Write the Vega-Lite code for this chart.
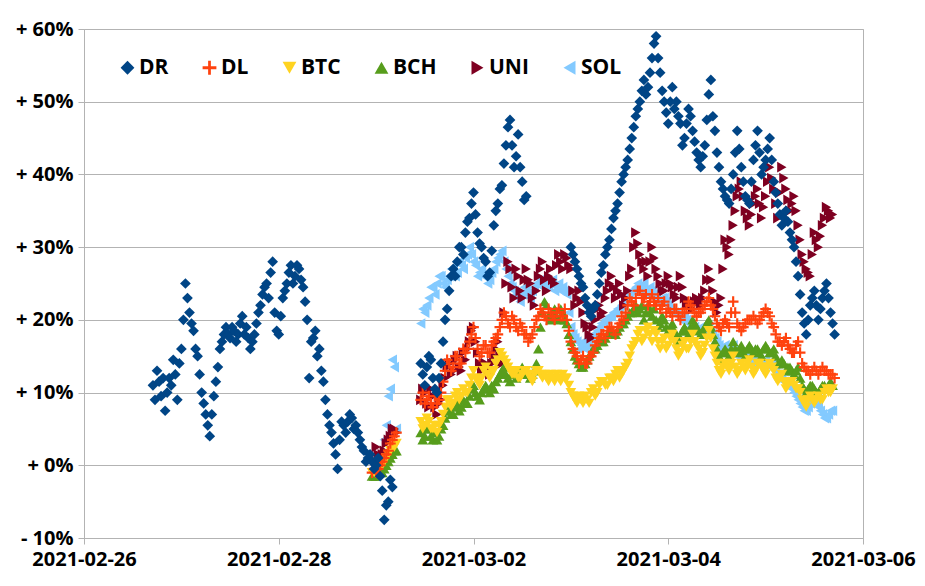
{
  "$schema": "https://vega.github.io/schema/vega-lite/v6.json",
  "description": "Relative price change of DR, DL, BTC, BCH, UNI and SOL, 2021-02-26 to 2021-03-06.",
  "background": "white",
  "width": 779,
  "height": 509,
  "autosize": "none",
  "padding": {"left": 84, "top": 29, "right": 62, "bottom": 48},
  "datasets": {
    "zorder": [
      {"series": "DR", "z": 6},
      {"series": "DL", "z": 5},
      {"series": "BTC", "z": 4},
      {"series": "BCH", "z": 3},
      {"series": "UNI", "z": 2},
      {"series": "SOL", "z": 1}
    ]
  },
  "data": {
    "values": [
      {"t": "2021-02-26T17:00", "DR": 11},
      {"t": "2021-02-26T17:30", "DR": 9},
      {"t": "2021-02-26T18:00", "DR": 13},
      {"t": "2021-02-26T18:30", "DR": 11.5},
      {"t": "2021-02-26T19:00", "DR": 9.5},
      {"t": "2021-02-26T19:30", "DR": 12},
      {"t": "2021-02-26T20:00", "DR": 7.5},
      {"t": "2021-02-26T20:30", "DR": 10},
      {"t": "2021-02-26T21:00", "DR": 12},
      {"t": "2021-02-26T21:30", "DR": 11},
      {"t": "2021-02-26T22:00", "DR": 14.5},
      {"t": "2021-02-26T22:30", "DR": 12.5},
      {"t": "2021-02-26T23:00", "DR": 9},
      {"t": "2021-02-26T23:30", "DR": 14},
      {"t": "2021-02-27T00:00", "DR": 16},
      {"t": "2021-02-27T00:30", "DR": 20},
      {"t": "2021-02-27T01:00", "DR": 25},
      {"t": "2021-02-27T01:30", "DR": 23},
      {"t": "2021-02-27T02:00", "DR": 21},
      {"t": "2021-02-27T02:30", "DR": 19.5},
      {"t": "2021-02-27T03:00", "DR": 18.5},
      {"t": "2021-02-27T03:30", "DR": 16},
      {"t": "2021-02-27T04:00", "DR": 15},
      {"t": "2021-02-27T04:30", "DR": 12.5},
      {"t": "2021-02-27T05:00", "DR": 10},
      {"t": "2021-02-27T05:30", "DR": 8.5},
      {"t": "2021-02-27T06:00", "DR": 7},
      {"t": "2021-02-27T06:30", "DR": 5.5},
      {"t": "2021-02-27T07:00", "DR": 4},
      {"t": "2021-02-27T07:30", "DR": 7},
      {"t": "2021-02-27T08:00", "DR": 9.5},
      {"t": "2021-02-27T08:30", "DR": 11.5},
      {"t": "2021-02-27T09:00", "DR": 13.5},
      {"t": "2021-02-27T09:30", "DR": 16},
      {"t": "2021-02-27T10:00", "DR": 17},
      {"t": "2021-02-27T10:30", "DR": 18},
      {"t": "2021-02-27T11:00", "DR": 19},
      {"t": "2021-02-27T11:30", "DR": 18},
      {"t": "2021-02-27T12:00", "DR": 17.5},
      {"t": "2021-02-27T12:30", "DR": 19},
      {"t": "2021-02-27T13:00", "DR": 18.5},
      {"t": "2021-02-27T13:30", "DR": 17},
      {"t": "2021-02-27T14:00", "DR": 18},
      {"t": "2021-02-27T14:30", "DR": 19.5},
      {"t": "2021-02-27T15:00", "DR": 20.5},
      {"t": "2021-02-27T15:30", "DR": 18},
      {"t": "2021-02-27T16:00", "DR": 19},
      {"t": "2021-02-27T16:30", "DR": 17.5},
      {"t": "2021-02-27T17:00", "DR": 16},
      {"t": "2021-02-27T17:30", "DR": 17},
      {"t": "2021-02-27T18:00", "DR": 18},
      {"t": "2021-02-27T18:30", "DR": 19.5},
      {"t": "2021-02-27T19:00", "DR": 21},
      {"t": "2021-02-27T19:30", "DR": 22},
      {"t": "2021-02-27T20:00", "DR": 23.5},
      {"t": "2021-02-27T20:30", "DR": 24.5},
      {"t": "2021-02-27T21:00", "DR": 25},
      {"t": "2021-02-27T21:30", "DR": 23},
      {"t": "2021-02-27T22:00", "DR": 26.5},
      {"t": "2021-02-27T22:30", "DR": 28},
      {"t": "2021-02-27T23:00", "DR": 21},
      {"t": "2021-02-27T23:30", "DR": 18.5},
      {"t": "2021-02-28T00:00", "DR": 18},
      {"t": "2021-02-28T00:30", "DR": 20.5},
      {"t": "2021-02-28T01:00", "DR": 23},
      {"t": "2021-02-28T01:30", "DR": 24},
      {"t": "2021-02-28T02:00", "DR": 25},
      {"t": "2021-02-28T02:30", "DR": 26.5},
      {"t": "2021-02-28T03:00", "DR": 27.5},
      {"t": "2021-02-28T03:30", "DR": 25},
      {"t": "2021-02-28T04:00", "DR": 26},
      {"t": "2021-02-28T04:30", "DR": 27.5},
      {"t": "2021-02-28T05:00", "DR": 27},
      {"t": "2021-02-28T05:30", "DR": 25.5},
      {"t": "2021-02-28T06:00", "DR": 24.5},
      {"t": "2021-02-28T06:30", "DR": 22.5},
      {"t": "2021-02-28T07:00", "DR": 20},
      {"t": "2021-02-28T07:30", "DR": 12},
      {"t": "2021-02-28T08:00", "DR": 17},
      {"t": "2021-02-28T08:30", "DR": 17.5},
      {"t": "2021-02-28T09:00", "DR": 18.5},
      {"t": "2021-02-28T09:30", "DR": 15},
      {"t": "2021-02-28T10:00", "DR": 16},
      {"t": "2021-02-28T10:30", "DR": 13},
      {"t": "2021-02-28T11:00", "DR": 11.5},
      {"t": "2021-02-28T11:30", "DR": 9},
      {"t": "2021-02-28T12:00", "DR": 7},
      {"t": "2021-02-28T12:30", "DR": 5.5},
      {"t": "2021-02-28T13:00", "DR": 4.5},
      {"t": "2021-02-28T13:30", "DR": 3},
      {"t": "2021-02-28T14:00", "DR": 1.5},
      {"t": "2021-02-28T14:30", "DR": -0.5},
      {"t": "2021-02-28T15:00", "DR": 3.5},
      {"t": "2021-02-28T15:30", "DR": 6},
      {"t": "2021-02-28T16:00", "DR": 5.5},
      {"t": "2021-02-28T16:30", "DR": 4.5},
      {"t": "2021-02-28T17:00", "DR": 6},
      {"t": "2021-02-28T17:30", "DR": 7},
      {"t": "2021-02-28T18:00", "DR": 6.5},
      {"t": "2021-02-28T18:30", "DR": 5},
      {"t": "2021-02-28T19:00", "DR": 5.5},
      {"t": "2021-02-28T19:30", "DR": 4.5},
      {"t": "2021-02-28T20:00", "DR": 3.5},
      {"t": "2021-02-28T20:30", "DR": 2.5},
      {"t": "2021-02-28T21:00", "DR": 2},
      {"t": "2021-02-28T21:30", "DR": 0.5},
      {"t": "2021-02-28T22:00", "DR": 1},
      {"t": "2021-02-28T22:30", "DR": 1.5},
      {"t": "2021-02-28T23:00", "DR": 0.5, "DL": -1, "BTC": -1, "BCH": -1.5},
      {"t": "2021-02-28T23:30", "DR": -0.5, "DL": -0.5, "BTC": -1, "BCH": -1.5},
      {"t": "2021-03-01T00:00", "DR": 0, "DL": -1, "BTC": -0.5, "BCH": -1.5, "UNI": 2.5},
      {"t": "2021-03-01T00:30", "DR": 1, "DL": -0.5, "BTC": 0, "BCH": -1, "UNI": 1.5},
      {"t": "2021-03-01T01:00", "DR": -1.5, "DL": 0, "BTC": 0, "BCH": -1, "UNI": 1},
      {"t": "2021-03-01T01:30", "DR": -3.5, "DL": 0.5, "BTC": 0, "BCH": -1, "UNI": 1.5},
      {"t": "2021-03-01T02:00", "DR": -7.5, "DL": 1, "BTC": 0.5, "BCH": -0.5, "UNI": 2, "SOL": 3.5},
      {"t": "2021-03-01T02:30", "DR": -5.5, "DL": 1.5, "BTC": 1, "BCH": 0, "UNI": 3, "SOL": 5.5},
      {"t": "2021-03-01T03:00", "DR": -5, "DL": 2, "BTC": 1.5, "BCH": 0.5, "UNI": 3.5, "SOL": 9.5},
      {"t": "2021-03-01T03:30", "DR": -2, "DL": 3, "BTC": 2, "BCH": 1, "UNI": 4, "SOL": 10.5},
      {"t": "2021-03-01T04:00", "DR": -3, "DL": 3.5, "BTC": 2.5, "BCH": 1.5, "UNI": 5, "SOL": 14.5},
      {"t": "2021-03-01T04:30", "DL": 4, "BTC": 2.5, "BCH": 2, "UNI": 5, "SOL": 13.5},
      {"t": "2021-03-01T05:00", "DL": 4.5, "BTC": 3, "BCH": 2, "UNI": 4.5, "SOL": 5},
      {"t": "2021-03-01T11:00", "DR": 14, "DL": 9, "BTC": 6, "BCH": 4.5, "UNI": 9, "SOL": 19.5},
      {"t": "2021-03-01T11:30", "DR": 12.5, "DL": 10, "BTC": 5, "BCH": 3.5, "UNI": 10.5, "SOL": 21.5},
      {"t": "2021-03-01T12:00", "DR": 11, "DL": 8.5, "BTC": 5.5, "BCH": 4, "UNI": 10, "SOL": 21},
      {"t": "2021-03-01T12:30", "DR": 13.5, "DL": 9, "BTC": 6.5, "BCH": 5, "UNI": 8.5, "SOL": 22},
      {"t": "2021-03-01T13:00", "DR": 15, "DL": 9.5, "BTC": 6, "BCH": 5, "UNI": 8, "SOL": 23},
      {"t": "2021-03-01T13:30", "DR": 14.5, "DL": 8.5, "BTC": 5, "BCH": 4, "UNI": 10.5, "SOL": 24.5},
      {"t": "2021-03-01T14:00", "DR": 12, "DL": 8, "BTC": 5, "BCH": 3.5, "UNI": 9.5, "SOL": 24.5},
      {"t": "2021-03-01T14:30", "DR": 10.5, "DL": 9.5, "BTC": 5.5, "BCH": 4.5, "UNI": 8, "SOL": 23.5},
      {"t": "2021-03-01T15:00", "DR": 10, "DL": 8.5, "BTC": 4.5, "BCH": 3.5, "UNI": 7, "SOL": 25},
      {"t": "2021-03-01T15:30", "DR": 12, "DL": 9, "BTC": 5.5, "BCH": 4, "UNI": 8.5, "SOL": 26},
      {"t": "2021-03-01T16:00", "DR": 14, "DL": 10, "BTC": 6, "BCH": 5, "UNI": 9, "SOL": 26},
      {"t": "2021-03-01T16:30", "DR": 17, "DL": 11.5, "BTC": 7, "BCH": 5.5, "UNI": 11, "SOL": 25},
      {"t": "2021-03-01T17:00", "DR": 20, "DL": 13, "BTC": 8, "BCH": 6.5, "UNI": 12, "SOL": 24.5},
      {"t": "2021-03-01T17:30", "DR": 21.5, "DL": 14.5, "BTC": 9, "BCH": 7.5, "UNI": 13.5, "SOL": 25.5},
      {"t": "2021-03-01T18:00", "DR": 24, "DL": 14, "BTC": 9, "BCH": 7.5, "UNI": 14, "SOL": 26},
      {"t": "2021-03-01T18:30", "DR": 26, "DL": 13, "BTC": 8, "BCH": 7, "UNI": 12.5, "SOL": 27},
      {"t": "2021-03-01T19:00", "DR": 27, "DL": 13.5, "BTC": 8.5, "BCH": 7, "UNI": 13, "SOL": 27},
      {"t": "2021-03-01T19:30", "DR": 26, "DL": 15, "BTC": 9.5, "BCH": 8, "UNI": 14.5, "SOL": 26},
      {"t": "2021-03-01T20:00", "DR": 28, "DL": 15, "BTC": 10, "BCH": 8.5, "UNI": 15, "SOL": 26.5},
      {"t": "2021-03-01T20:30", "DR": 30, "DL": 14, "BTC": 9, "BCH": 7.5, "UNI": 13.5, "SOL": 28},
      {"t": "2021-03-01T21:00", "DR": 30, "DL": 14, "BTC": 9.5, "BCH": 8, "UNI": 13, "SOL": 27.5},
      {"t": "2021-03-01T21:30", "DR": 29, "DL": 16, "BTC": 10.5, "BCH": 9, "UNI": 15.5, "SOL": 27},
      {"t": "2021-03-01T22:00", "DR": 32, "DL": 15.5, "BTC": 10, "BCH": 8.5, "UNI": 14.5, "SOL": 28.5},
      {"t": "2021-03-01T22:30", "DR": 33.5, "DL": 16, "BTC": 10, "BCH": 8.5, "UNI": 16, "SOL": 29},
      {"t": "2021-03-01T23:00", "DR": 34, "DL": 17, "BTC": 11, "BCH": 9.5, "UNI": 17, "SOL": 30},
      {"t": "2021-03-01T23:30", "DR": 36, "DL": 18, "BTC": 12, "BCH": 10.5, "UNI": 18.5, "SOL": 29},
      {"t": "2021-03-02T00:00", "DR": 37.5, "DL": 19, "BTC": 13, "BCH": 11, "UNI": 19, "SOL": 28},
      {"t": "2021-03-02T00:30", "DR": 34.5, "DL": 17.5, "BTC": 12, "BCH": 10, "UNI": 17, "SOL": 27.5},
      {"t": "2021-03-02T01:00", "DR": 32, "DL": 16, "BTC": 11.5, "BCH": 9.5, "UNI": 15.5, "SOL": 26},
      {"t": "2021-03-02T01:30", "DR": 30.5, "DL": 15, "BTC": 11, "BCH": 9, "UNI": 14, "SOL": 26.5},
      {"t": "2021-03-02T02:00", "DR": 30, "DL": 15.5, "BTC": 12, "BCH": 10, "UNI": 13, "SOL": 27},
      {"t": "2021-03-02T02:30", "DR": 28.5, "DL": 16.5, "BTC": 13, "BCH": 10.5, "UNI": 14, "SOL": 26},
      {"t": "2021-03-02T03:00", "DR": 28, "DL": 16.5, "BTC": 13.5, "BCH": 11, "UNI": 14, "SOL": 26},
      {"t": "2021-03-02T03:30", "DR": 26, "DL": 15.5, "BTC": 12.5, "BCH": 10.5, "UNI": 13, "SOL": 25},
      {"t": "2021-03-02T04:00", "DR": 26.5, "DL": 15.5, "BTC": 12, "BCH": 10, "UNI": 12.5, "SOL": 25.5},
      {"t": "2021-03-02T04:30", "DR": 29.5, "DL": 16.5, "BTC": 13, "BCH": 11, "UNI": 14, "SOL": 26.5},
      {"t": "2021-03-02T05:00", "DR": 33, "DL": 17, "BTC": 13, "BCH": 10.5, "UNI": 15, "SOL": 27},
      {"t": "2021-03-02T05:30", "DR": 35, "DL": 17.5, "BTC": 14, "BCH": 11.5, "UNI": 16, "SOL": 28},
      {"t": "2021-03-02T06:00", "DR": 36, "DL": 18, "BTC": 14.5, "BCH": 12, "UNI": 17, "SOL": 28.5},
      {"t": "2021-03-02T06:30", "DR": 38, "DL": 19, "BTC": 15.5, "BCH": 12.5, "UNI": 15, "SOL": 29},
      {"t": "2021-03-02T07:00", "DR": 38.5, "DL": 20, "BTC": 15, "BCH": 13, "UNI": 14, "SOL": 29.5},
      {"t": "2021-03-02T07:30", "DR": 41.5, "DL": 21, "BTC": 14.5, "BCH": 13.5, "UNI": 21, "SOL": 28},
      {"t": "2021-03-02T08:00", "DR": 44, "DL": 20.5, "BTC": 14, "BCH": 12.5, "UNI": 25, "SOL": 27},
      {"t": "2021-03-02T08:30", "DR": 46.5, "DL": 19.5, "BTC": 13.5, "BCH": 12, "UNI": 28, "SOL": 26},
      {"t": "2021-03-02T09:00", "DR": 47.5, "DL": 19, "BTC": 13, "BCH": 11.5, "UNI": 27, "SOL": 25},
      {"t": "2021-03-02T09:30", "DR": 44, "DL": 20.5, "BTC": 12.5, "BCH": 12.5, "UNI": 24.5, "SOL": 24.5},
      {"t": "2021-03-02T10:00", "DR": 41, "DL": 20, "BTC": 12.5, "BCH": 13, "UNI": 23, "SOL": 24},
      {"t": "2021-03-02T10:30", "DR": 42.5, "DL": 19, "BTC": 13, "BCH": 12, "UNI": 27, "SOL": 23.5},
      {"t": "2021-03-02T11:00", "DR": 45.5, "DL": 18.5, "BTC": 12, "BCH": 12.5, "UNI": 26, "SOL": 23},
      {"t": "2021-03-02T11:30", "DR": 41, "DL": 19.5, "BTC": 12, "BCH": 13, "UNI": 24, "SOL": 22.5},
      {"t": "2021-03-02T12:00", "DR": 39, "DL": 19, "BTC": 12.5, "BCH": 13.5, "UNI": 23, "SOL": 23.5},
      {"t": "2021-03-02T12:30", "DR": 36.5, "DL": 18, "BTC": 13, "BCH": 12.5, "UNI": 25.5, "SOL": 24.5},
      {"t": "2021-03-02T13:00", "DR": 37, "DL": 18, "BTC": 13, "BCH": 13, "UNI": 27, "SOL": 24},
      {"t": "2021-03-02T13:30", "DL": 17, "BTC": 12.5, "BCH": 12.5, "UNI": 25.5, "SOL": 23.5},
      {"t": "2021-03-02T14:00", "DL": 17.5, "BTC": 12, "BCH": 12, "UNI": 25, "SOL": 23},
      {"t": "2021-03-02T14:30", "DL": 18, "BTC": 11.5, "BCH": 12.5, "UNI": 23, "SOL": 24},
      {"t": "2021-03-02T15:00", "DL": 19, "BTC": 12.5, "BCH": 13, "UNI": 22, "SOL": 24.5},
      {"t": "2021-03-02T15:30", "DL": 20, "BTC": 13, "BCH": 14, "UNI": 24, "SOL": 25},
      {"t": "2021-03-02T16:00", "DL": 20.5, "BTC": 13, "BCH": 16, "UNI": 26, "SOL": 25},
      {"t": "2021-03-02T16:30", "DL": 21.5, "BTC": 12.5, "BCH": 19, "UNI": 27, "SOL": 25.5},
      {"t": "2021-03-02T17:00", "DL": 21, "BTC": 12, "BCH": 21, "UNI": 28, "SOL": 24.5},
      {"t": "2021-03-02T17:30", "DL": 20.5, "BTC": 12.5, "BCH": 22.5, "UNI": 25.5, "SOL": 25},
      {"t": "2021-03-02T18:00", "DL": 20, "BTC": 12, "BCH": 22, "UNI": 24, "SOL": 25.5},
      {"t": "2021-03-02T18:30", "DL": 21.5, "BTC": 11.5, "BCH": 20.5, "UNI": 26, "SOL": 24.5},
      {"t": "2021-03-02T19:00", "DL": 21, "BTC": 12.5, "BCH": 20, "UNI": 27, "SOL": 25},
      {"t": "2021-03-02T19:30", "DL": 20.5, "BTC": 12, "BCH": 21, "UNI": 25.5, "SOL": 25.5},
      {"t": "2021-03-02T20:00", "DL": 20, "BTC": 11.5, "BCH": 21.5, "UNI": 25, "SOL": 24},
      {"t": "2021-03-02T20:30", "DL": 21, "BTC": 12.5, "BCH": 20.5, "UNI": 27.5, "SOL": 24.5},
      {"t": "2021-03-02T21:00", "DL": 21.5, "BTC": 12, "BCH": 20, "UNI": 29, "SOL": 25},
      {"t": "2021-03-02T21:30", "DL": 20.5, "BTC": 11.5, "BCH": 21.5, "UNI": 28, "SOL": 24},
      {"t": "2021-03-02T22:00", "DL": 20.5, "BTC": 12.5, "BCH": 21, "UNI": 27, "SOL": 24.5},
      {"t": "2021-03-02T22:30", "DL": 21.5, "BTC": 12, "BCH": 20, "UNI": 29, "SOL": 24},
      {"t": "2021-03-02T23:00", "DL": 20, "BTC": 12, "BCH": 19.5, "UNI": 28.5, "SOL": 23.5},
      {"t": "2021-03-02T23:30", "DL": 18.5, "BTC": 11, "BCH": 18, "UNI": 27.5, "SOL": 21},
      {"t": "2021-03-03T00:00", "DR": 30, "DL": 17, "BTC": 10, "BCH": 17, "UNI": 27, "SOL": 19},
      {"t": "2021-03-03T00:30", "DR": 29, "DL": 16, "BTC": 9.5, "BCH": 16, "UNI": 24, "SOL": 18},
      {"t": "2021-03-03T01:00", "DR": 28, "DL": 15.5, "BTC": 9, "BCH": 15, "UNI": 22, "SOL": 17.5},
      {"t": "2021-03-03T01:30", "DR": 27, "DL": 15, "BTC": 8.5, "BCH": 14.5, "UNI": 23, "SOL": 17},
      {"t": "2021-03-03T02:00", "DR": 26, "DL": 14, "BTC": 9.5, "BCH": 14, "UNI": 24, "SOL": 16},
      {"t": "2021-03-03T02:30", "DR": 25, "DL": 14.5, "BTC": 9, "BCH": 13.5, "UNI": 22.5, "SOL": 16.5},
      {"t": "2021-03-03T03:00", "DR": 24.5, "DL": 15, "BTC": 8.5, "BCH": 13.5, "UNI": 21, "SOL": 17},
      {"t": "2021-03-03T03:30", "DR": 23, "DL": 14, "BTC": 9.5, "BCH": 14, "UNI": 19.5, "SOL": 16},
      {"t": "2021-03-03T04:00", "DR": 22, "DL": 14, "BTC": 9, "BCH": 14.5, "UNI": 19, "SOL": 16.5},
      {"t": "2021-03-03T04:30", "DR": 21, "DL": 15, "BTC": 8.5, "BCH": 15, "UNI": 18, "SOL": 17},
      {"t": "2021-03-03T05:00", "DR": 20.5, "DL": 15, "BTC": 10, "BCH": 15.5, "UNI": 17.5, "SOL": 17.5},
      {"t": "2021-03-03T05:30", "DR": 21.5, "DL": 15.5, "BTC": 10.5, "BCH": 16, "UNI": 19, "SOL": 18},
      {"t": "2021-03-03T06:00", "DR": 22, "DL": 16.5, "BTC": 9.5, "BCH": 16, "UNI": 20, "SOL": 18},
      {"t": "2021-03-03T06:30", "DR": 23.5, "DL": 17, "BTC": 10, "BCH": 16.5, "UNI": 21.5, "SOL": 18.5},
      {"t": "2021-03-03T07:00", "DR": 25, "DL": 17.5, "BTC": 11, "BCH": 17.5, "UNI": 22, "SOL": 19},
      {"t": "2021-03-03T07:30", "DR": 26.5, "DL": 18, "BTC": 11.5, "BCH": 17, "UNI": 20.5, "SOL": 19.5},
      {"t": "2021-03-03T08:00", "DR": 27.5, "DL": 18, "BTC": 11.5, "BCH": 17, "UNI": 21, "SOL": 19.5},
      {"t": "2021-03-03T08:30", "DR": 29, "DL": 17.5, "BTC": 11, "BCH": 17.5, "UNI": 23, "SOL": 20},
      {"t": "2021-03-03T09:00", "DR": 30, "DL": 18.5, "BTC": 11, "BCH": 18, "UNI": 24, "SOL": 20},
      {"t": "2021-03-03T09:30", "DR": 31, "DL": 19, "BTC": 12, "BCH": 18.5, "UNI": 25, "SOL": 20.5},
      {"t": "2021-03-03T10:00", "DR": 32.5, "DL": 19, "BTC": 12, "BCH": 18.5, "UNI": 26, "SOL": 20.5},
      {"t": "2021-03-03T10:30", "DR": 34, "DL": 18.5, "BTC": 11.5, "BCH": 18, "UNI": 24.5, "SOL": 21},
      {"t": "2021-03-03T11:00", "DR": 35, "DL": 18, "BTC": 12.5, "BCH": 18, "UNI": 23, "SOL": 21},
      {"t": "2021-03-03T11:30", "DR": 36, "DL": 19, "BTC": 13, "BCH": 18.5, "UNI": 24, "SOL": 21.5},
      {"t": "2021-03-03T12:00", "DR": 37.5, "DL": 19.5, "BTC": 12, "BCH": 19, "UNI": 25, "SOL": 21.5},
      {"t": "2021-03-03T12:30", "DR": 39, "DL": 20.5, "BTC": 12.5, "BCH": 19.5, "UNI": 23.5, "SOL": 22},
      {"t": "2021-03-03T13:00", "DR": 40, "DL": 20, "BTC": 13, "BCH": 19.5, "UNI": 22, "SOL": 22},
      {"t": "2021-03-03T13:30", "DR": 41, "DL": 21, "BTC": 13.5, "BCH": 20, "UNI": 23, "SOL": 22.5},
      {"t": "2021-03-03T14:00", "DR": 42, "DL": 22, "BTC": 14, "BCH": 20.5, "UNI": 24, "SOL": 23},
      {"t": "2021-03-03T14:30", "DR": 43.5, "DL": 23, "BTC": 15, "BCH": 21, "UNI": 26, "SOL": 23.5},
      {"t": "2021-03-03T15:00", "DR": 45, "DL": 22.5, "BTC": 16, "BCH": 21, "UNI": 27, "SOL": 24},
      {"t": "2021-03-03T15:30", "DR": 46.5, "DL": 22, "BTC": 16.5, "BCH": 21.5, "UNI": 30, "SOL": 24},
      {"t": "2021-03-03T16:00", "DR": 48, "DL": 23, "BTC": 17, "BCH": 22, "UNI": 32, "SOL": 24.5},
      {"t": "2021-03-03T16:30", "DR": 49, "DL": 24, "BTC": 18, "BCH": 21, "UNI": 30.5, "SOL": 25},
      {"t": "2021-03-03T17:00", "DR": 50, "DL": 24, "BTC": 18.5, "BCH": 21.5, "UNI": 29, "SOL": 24},
      {"t": "2021-03-03T17:30", "DR": 51.5, "DL": 23, "BTC": 17, "BCH": 22, "UNI": 28, "SOL": 24.5},
      {"t": "2021-03-03T18:00", "DR": 53, "DL": 23, "BTC": 17.5, "BCH": 20, "UNI": 27, "SOL": 25},
      {"t": "2021-03-03T18:30", "DR": 51, "DL": 23.5, "BTC": 18.5, "BCH": 21, "UNI": 28, "SOL": 24},
      {"t": "2021-03-03T19:00", "DR": 52, "DL": 22, "BTC": 19, "BCH": 22, "UNI": 26, "SOL": 23.5},
      {"t": "2021-03-03T19:30", "DR": 54, "DL": 22.5, "BTC": 18, "BCH": 21, "UNI": 28, "SOL": 24.5},
      {"t": "2021-03-03T20:00", "DR": 56, "DL": 23.5, "BTC": 17, "BCH": 20.5, "UNI": 30, "SOL": 24},
      {"t": "2021-03-03T20:30", "DR": 58, "DL": 22.5, "BTC": 18.5, "BCH": 21.5, "UNI": 28.5, "SOL": 23.5},
      {"t": "2021-03-03T21:00", "DR": 59, "DL": 22, "BTC": 18, "BCH": 20, "UNI": 27, "SOL": 23},
      {"t": "2021-03-03T21:30", "DR": 56, "DL": 23, "BTC": 17, "BCH": 19, "UNI": 26, "SOL": 22.5},
      {"t": "2021-03-03T22:00", "DR": 54, "DL": 21.5, "BTC": 16, "BCH": 19.5, "UNI": 25, "SOL": 22.5},
      {"t": "2021-03-03T22:30", "DR": 51.5, "DL": 22, "BTC": 17, "BCH": 20.5, "UNI": 24, "SOL": 23},
      {"t": "2021-03-03T23:00", "DR": 50, "DL": 22.5, "BTC": 17.5, "BCH": 20, "UNI": 24, "SOL": 23},
      {"t": "2021-03-03T23:30", "DR": 48.5, "DL": 21, "BTC": 16, "BCH": 19, "UNI": 25, "SOL": 22.5},
      {"t": "2021-03-04T00:00", "DR": 47, "DL": 21.5, "BTC": 16.5, "BCH": 18.5, "UNI": 26, "SOL": 22},
      {"t": "2021-03-04T00:30", "DR": 50, "DL": 21, "BTC": 17.5, "BCH": 19, "UNI": 25, "SOL": 21.5},
      {"t": "2021-03-04T01:00", "DR": 52, "DL": 20.5, "BTC": 18, "BCH": 19.5, "UNI": 24.5, "SOL": 21.5},
      {"t": "2021-03-04T01:30", "DR": 49, "DL": 21.5, "BTC": 17, "BCH": 18.5, "UNI": 23.5, "SOL": 21},
      {"t": "2021-03-04T02:00", "DR": 50, "DL": 21.5, "BTC": 16, "BCH": 18, "UNI": 23, "SOL": 21},
      {"t": "2021-03-04T02:30", "DR": 48, "DL": 20.5, "BTC": 15, "BCH": 17, "UNI": 24.5, "SOL": 20.5},
      {"t": "2021-03-04T03:00", "DR": 47, "DL": 20, "BTC": 15.5, "BCH": 17.5, "UNI": 26, "SOL": 20},
      {"t": "2021-03-04T03:30", "DR": 44, "DL": 21, "BTC": 16.5, "BCH": 18.5, "UNI": 24.5, "SOL": 20},
      {"t": "2021-03-04T04:00", "DR": 45, "DL": 21, "BTC": 17, "BCH": 19, "UNI": 23, "SOL": 20.5},
      {"t": "2021-03-04T04:30", "DR": 47, "DL": 21.5, "BTC": 16, "BCH": 18.5, "UNI": 22, "SOL": 20},
      {"t": "2021-03-04T05:00", "DR": 49, "DL": 22.5, "BTC": 16, "BCH": 18, "UNI": 22.5, "SOL": 19.5},
      {"t": "2021-03-04T05:30", "DR": 48, "DL": 22, "BTC": 17, "BCH": 19, "UNI": 22, "SOL": 19},
      {"t": "2021-03-04T06:00", "DR": 46, "DL": 21.5, "BTC": 18, "BCH": 20, "UNI": 21.5, "SOL": 19},
      {"t": "2021-03-04T06:30", "DR": 44.5, "DL": 21, "BTC": 17, "BCH": 19.5, "UNI": 22.5, "SOL": 19},
      {"t": "2021-03-04T07:00", "DR": 43, "DL": 20.5, "BTC": 16.5, "BCH": 19, "UNI": 23, "SOL": 18.5},
      {"t": "2021-03-04T07:30", "DR": 42, "DL": 21, "BTC": 16, "BCH": 18.5, "UNI": 22.5, "SOL": 18.5},
      {"t": "2021-03-04T08:00", "DR": 41, "DL": 21, "BTC": 15, "BCH": 18, "UNI": 22, "SOL": 19},
      {"t": "2021-03-04T08:30", "DR": 42.5, "DL": 21.5, "BTC": 15.5, "BCH": 18.5, "UNI": 23, "SOL": 18.5},
      {"t": "2021-03-04T09:00", "DR": 44, "DL": 22, "BTC": 16.5, "BCH": 19, "UNI": 24, "SOL": 18},
      {"t": "2021-03-04T09:30", "DR": 47.5, "DL": 22.5, "BTC": 17.5, "BCH": 19.5, "UNI": 25.5, "SOL": 18.5},
      {"t": "2021-03-04T10:00", "DR": 51, "DL": 23, "BTC": 18.5, "BCH": 20, "UNI": 27, "SOL": 19},
      {"t": "2021-03-04T10:30", "DR": 53, "DL": 22, "BTC": 17.5, "BCH": 19, "UNI": 25.5, "SOL": 18.5},
      {"t": "2021-03-04T11:00", "DR": 48, "DL": 21.5, "BTC": 16, "BCH": 18, "UNI": 24, "SOL": 18},
      {"t": "2021-03-04T11:30", "DR": 46, "DL": 20.5, "BTC": 15, "BCH": 17, "UNI": 22.5, "SOL": 17.5},
      {"t": "2021-03-04T12:00", "DR": 43, "DL": 19.5, "BTC": 14, "BCH": 16, "UNI": 21, "SOL": 17},
      {"t": "2021-03-04T12:30", "DR": 41, "DL": 19, "BTC": 13, "BCH": 15, "UNI": 22, "SOL": 16.5},
      {"t": "2021-03-04T13:00", "DR": 39, "DL": 18.5, "BTC": 12.5, "BCH": 14.5, "UNI": 23, "SOL": 16},
      {"t": "2021-03-04T13:30", "DR": 38, "DL": 19.5, "BTC": 13.5, "BCH": 15.5, "UNI": 27, "SOL": 16},
      {"t": "2021-03-04T14:00", "DR": 37, "DL": 20, "BTC": 14, "BCH": 16, "UNI": 31, "SOL": 16.5},
      {"t": "2021-03-04T14:30", "DR": 36.5, "DL": 19.5, "BTC": 13.5, "BCH": 15.5, "UNI": 30, "SOL": 16},
      {"t": "2021-03-04T15:00", "DR": 36, "DL": 19, "BTC": 13, "BCH": 15, "UNI": 29, "SOL": 15.5},
      {"t": "2021-03-04T15:30", "DR": 38, "DL": 21, "BTC": 14, "BCH": 16, "UNI": 31, "SOL": 16},
      {"t": "2021-03-04T16:00", "DR": 40, "DL": 22.5, "BTC": 15, "BCH": 17, "UNI": 33, "SOL": 16.5},
      {"t": "2021-03-04T16:30", "DR": 43, "DL": 21, "BTC": 13.5, "BCH": 16, "UNI": 35, "SOL": 15.5},
      {"t": "2021-03-04T17:00", "DR": 46, "DL": 19.5, "BTC": 12.5, "BCH": 15.5, "UNI": 37, "SOL": 15},
      {"t": "2021-03-04T17:30", "DR": 43.5, "DL": 19, "BTC": 13, "BCH": 16, "UNI": 38, "SOL": 15},
      {"t": "2021-03-04T18:00", "DR": 41, "DL": 18.5, "BTC": 14, "BCH": 16.5, "UNI": 39, "SOL": 15.5},
      {"t": "2021-03-04T18:30", "DR": 39, "DL": 19, "BTC": 13.5, "BCH": 15.5, "UNI": 37, "SOL": 15},
      {"t": "2021-03-04T19:00", "DR": 37, "DL": 19.5, "BTC": 13, "BCH": 15, "UNI": 35, "SOL": 14.5},
      {"t": "2021-03-04T19:30", "DR": 36.5, "DL": 20, "BTC": 14, "BCH": 16, "UNI": 34, "SOL": 15},
      {"t": "2021-03-04T20:00", "DR": 36, "DL": 20, "BTC": 14.5, "BCH": 16.5, "UNI": 33, "SOL": 15.5},
      {"t": "2021-03-04T20:30", "DR": 39, "DL": 20, "BTC": 13.5, "BCH": 16, "UNI": 34.5, "SOL": 14.5},
      {"t": "2021-03-04T21:00", "DR": 42, "DL": 20.5, "BTC": 12.5, "BCH": 15.5, "UNI": 36, "SOL": 14},
      {"t": "2021-03-04T21:30", "DR": 44, "DL": 20, "BTC": 13, "BCH": 16, "UNI": 37, "SOL": 14.5},
      {"t": "2021-03-04T22:00", "DR": 46, "DL": 19.5, "BTC": 14, "BCH": 16, "UNI": 38, "SOL": 15},
      {"t": "2021-03-04T22:30", "DR": 43, "DL": 20, "BTC": 14, "BCH": 15.5, "UNI": 36, "SOL": 14.5},
      {"t": "2021-03-04T23:00", "DR": 40, "DL": 20.5, "BTC": 13.5, "BCH": 15, "UNI": 34, "SOL": 14},
      {"t": "2021-03-04T23:30", "DR": 41, "DL": 21, "BTC": 13, "BCH": 16, "UNI": 35.5, "SOL": 14},
      {"t": "2021-03-05T00:00", "DR": 42, "DL": 21.5, "BTC": 12.5, "BCH": 16.5, "UNI": 37, "SOL": 14.5},
      {"t": "2021-03-05T00:30", "DR": 43.5, "DL": 21, "BTC": 13.5, "BCH": 16, "UNI": 39, "SOL": 14},
      {"t": "2021-03-05T01:00", "DR": 45, "DL": 20.5, "BTC": 14, "BCH": 15.5, "UNI": 41, "SOL": 13.5},
      {"t": "2021-03-05T01:30", "DR": 42, "DL": 19.5, "BTC": 13.5, "BCH": 15.5, "UNI": 39.5, "SOL": 13.5},
      {"t": "2021-03-05T02:00", "DR": 39, "DL": 19, "BTC": 13, "BCH": 16, "UNI": 38, "SOL": 14},
      {"t": "2021-03-05T02:30", "DR": 37.5, "DL": 18, "BTC": 12, "BCH": 15, "UNI": 36, "SOL": 13},
      {"t": "2021-03-05T03:00", "DR": 36, "DL": 17, "BTC": 11.5, "BCH": 14, "UNI": 34, "SOL": 12.5},
      {"t": "2021-03-05T03:30", "DR": 34.5, "DL": 17, "BTC": 12, "BCH": 14, "UNI": 37.5, "SOL": 12.5},
      {"t": "2021-03-05T04:00", "DR": 33, "DL": 16.5, "BTC": 12.5, "BCH": 14.5, "UNI": 41, "SOL": 12},
      {"t": "2021-03-05T04:30", "DR": 34, "DL": 17, "BTC": 11.5, "BCH": 14, "UNI": 39.5, "SOL": 11.5},
      {"t": "2021-03-05T05:00", "DR": 35, "DL": 17.5, "BTC": 10.5, "BCH": 13, "UNI": 38, "SOL": 11.5},
      {"t": "2021-03-05T05:30", "DR": 33.5, "DL": 16.5, "BTC": 11, "BCH": 13.5, "UNI": 36.5, "SOL": 11},
      {"t": "2021-03-05T06:00", "DR": 32, "DL": 16, "BTC": 11.5, "BCH": 13.5, "UNI": 35, "SOL": 11},
      {"t": "2021-03-05T06:30", "DR": 31, "DL": 15.5, "BTC": 11.5, "BCH": 13, "UNI": 36, "SOL": 10.5},
      {"t": "2021-03-05T07:00", "DR": 30, "DL": 15.5, "BTC": 11, "BCH": 12.5, "UNI": 37, "SOL": 10},
      {"t": "2021-03-05T07:30", "DR": 28, "DL": 16.5, "BTC": 10.5, "BCH": 13, "UNI": 35, "SOL": 9.5},
      {"t": "2021-03-05T08:00", "DR": 26, "DL": 17, "BTC": 10.5, "BCH": 13.5, "UNI": 33, "SOL": 9},
      {"t": "2021-03-05T08:30", "DR": 23.5, "DL": 15.5, "BTC": 10, "BCH": 12, "UNI": 31, "SOL": 8.5},
      {"t": "2021-03-05T09:00", "DR": 21, "DL": 14, "BTC": 9, "BCH": 11, "UNI": 29, "SOL": 8},
      {"t": "2021-03-05T09:30", "DR": 19.5, "DL": 13.5, "BTC": 8.5, "BCH": 10.5, "UNI": 28, "SOL": 7.5},
      {"t": "2021-03-05T10:00", "DR": 18, "DL": 13, "BTC": 8, "BCH": 10, "UNI": 27, "SOL": 7.5},
      {"t": "2021-03-05T10:30", "DR": 20, "DL": 13, "BTC": 9, "BCH": 10.5, "UNI": 26.5, "SOL": 8},
      {"t": "2021-03-05T11:00", "DR": 22, "DL": 12.5, "BTC": 9.5, "BCH": 11, "UNI": 26, "SOL": 8.5},
      {"t": "2021-03-05T11:30", "DR": 23, "DL": 13, "BTC": 9, "BCH": 11, "UNI": 29, "SOL": 9},
      {"t": "2021-03-05T12:00", "DR": 24, "DL": 13.5, "BTC": 8.5, "BCH": 10.5, "UNI": 32, "SOL": 9},
      {"t": "2021-03-05T12:30", "DR": 22, "DL": 13, "BTC": 9, "BCH": 10, "UNI": 31, "SOL": 8.5},
      {"t": "2021-03-05T13:00", "DR": 20, "DL": 12.5, "BTC": 9.5, "BCH": 10, "UNI": 30, "SOL": 8},
      {"t": "2021-03-05T13:30", "DR": 21.5, "DL": 13, "BTC": 9, "BCH": 10.5, "UNI": 31.5, "SOL": 7.5},
      {"t": "2021-03-05T14:00", "DR": 23, "DL": 13.5, "BTC": 9, "BCH": 11, "UNI": 33, "SOL": 7},
      {"t": "2021-03-05T14:30", "DR": 24, "DL": 13, "BTC": 10, "BCH": 11, "UNI": 34, "SOL": 6.5},
      {"t": "2021-03-05T15:00", "DR": 25, "DL": 13, "BTC": 10.5, "BCH": 10.5, "UNI": 35.5, "SOL": 6.5},
      {"t": "2021-03-05T15:30", "DR": 23, "DL": 12.5, "BTC": 10, "BCH": 11, "UNI": 35, "SOL": 7},
      {"t": "2021-03-05T16:00", "DR": 21, "DL": 12.5, "BTC": 10, "BCH": 11.5, "UNI": 34, "SOL": 7.5},
      {"t": "2021-03-05T16:30", "DR": 19.5, "DL": 12.5, "BTC": 10.5, "BCH": 11, "UNI": 34.5, "SOL": 7.5},
      {"t": "2021-03-05T17:00", "DR": 18, "DL": 12}
    ]
  },
  "transform": [
    {"fold": ["DR", "DL", "BTC", "BCH", "UNI", "SOL"], "as": ["series", "v"]},
    {"filter": "isValid(datum.v)"},
    {"lookup": "series", "from": {"data": {"name": "zorder"}, "key": "series", "fields": ["z"]}}
  ],
  "mark": {"type": "point", "filled": true, "opacity": 1, "size": 115},
  "encoding": {
    "x": {
      "field": "t",
      "type": "temporal",
      "scale": {"domain": [{"year": 2021, "month": 2, "date": 26}, {"year": 2021, "month": 3, "date": 6}]},
      "axis": {
        "title": null,
        "grid": false,
        "format": "%Y-%m-%d",
        "values": [
          {"year": 2021, "month": 2, "date": 26},
          {"year": 2021, "month": 2, "date": 28},
          {"year": 2021, "month": 3, "date": 2},
          {"year": 2021, "month": 3, "date": 4},
          {"year": 2021, "month": 3, "date": 6}
        ],
        "labelFlush": false,
        "labelOverlap": false,
        "labelPadding": 5
      }
    },
    "y": {
      "field": "v",
      "type": "quantitative",
      "scale": {"domain": [-10, 60], "nice": false, "zero": false},
      "axis": {
        "title": null,
        "values": [-10, 0, 10, 20, 30, 40, 50, 60],
        "labelExpr": "(datum.value < 0 ? '- ' : '+ ') + abs(datum.value) + '%'",
        "labelPadding": 5
      }
    },
    "color": {
      "field": "series",
      "type": "nominal",
      "scale": {
        "domain": ["DR", "DL", "BTC", "BCH", "UNI", "SOL"],
        "range": ["#004586", "#ff420e", "#ffd320", "#579d1c", "#7e0021", "#83caff"]
      },
      "legend": {
        "title": null,
        "orient": "none",
        "legendX": 33,
        "legendY": 28,
        "direction": "horizontal",
        "columnPadding": 30,
        "labelOffset": 1,
        "symbolSize": 190,
        "padding": 0
      }
    },
    "shape": {
      "field": "series",
      "type": "nominal",
      "scale": {
        "domain": ["DR", "DL", "BTC", "BCH", "UNI", "SOL"],
        "range": ["diamond", "M-1,-0.2H-0.2V-1H0.2V-0.2H1V0.2H0.2V1H-0.2V0.2H-1Z", "triangle-down", "triangle-up", "triangle-right", "triangle-left"]
      }
    },
    "order": {"field": "z", "type": "quantitative"}
  },
  "config": {
    "view": {"stroke": "#b3b3b3", "strokeWidth": 1},
    "axis": {
      "domainColor": "#b3b3b3",
      "tickColor": "#b3b3b3",
      "gridColor": "#b3b3b3",
      "tickSize": 6,
      "labelFont": "Open Sans",
      "labelFontSize": 20,
      "labelFontWeight": "bold",
      "labelColor": "#000000"
    },
    "legend": {
      "labelFont": "Open Sans",
      "labelFontSize": 21,
      "labelFontWeight": "bold",
      "labelColor": "#000000"
    }
  }
}
